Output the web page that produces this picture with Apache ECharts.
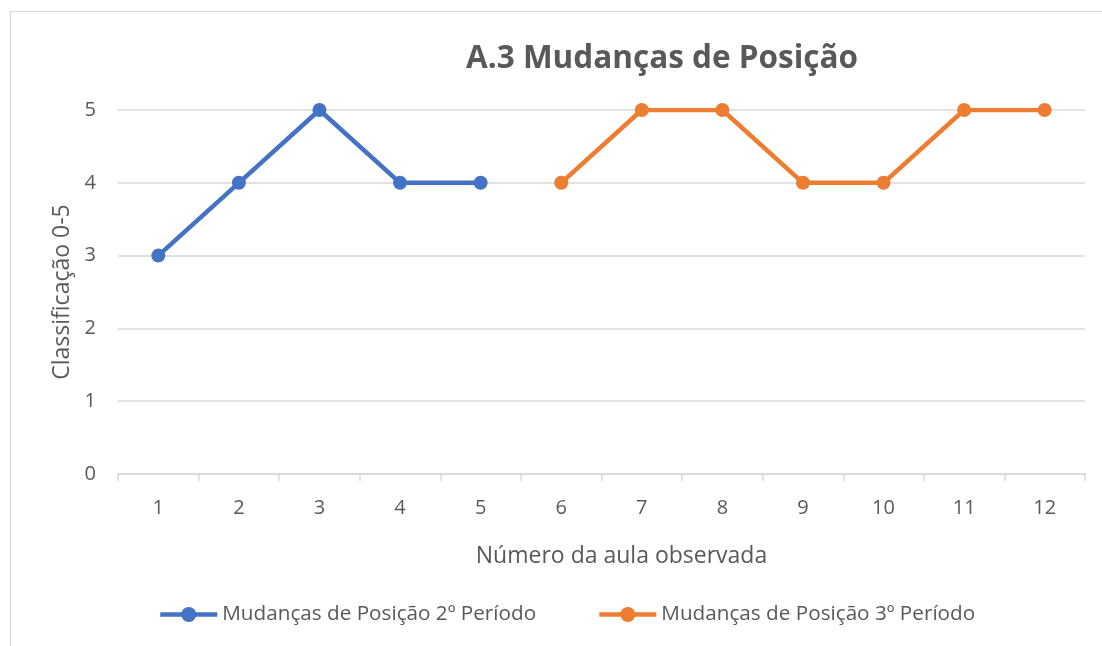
<!DOCTYPE html>
<html>
<head>
<meta charset="utf-8">
<script src="https://cdn.jsdelivr.net/npm/echarts@6/dist/echarts.min.js"></script>
<style>
html,body{margin:0;padding:0;background:#fff;}
#frame{position:absolute;left:10px;top:11px;width:1200px;height:800px;border:1px solid #d9d9d9;box-sizing:border-box;}
#chart{position:absolute;left:0;top:0;width:1102px;height:646px;}
</style>
</head>
<body>
<div id="frame"></div>
<div id="chart"></div>
<script>
const categories = ['1','2','3','4','5','6','7','8','9','10','11','12'];
const period2 = [3,4,5,4,4,null,null,null,null,null,null,null];
const period3 = [null,null,null,null,null,4,5,5,4,4,5,5];
const seriesNames = ['Mudanças de Posição 2º Período','Mudanças de Posição 3º Período'];
const titleText = 'A.3 Mudanças de Posição';
const xName = 'Número da aula observada';
const yName = 'Classificação 0-5';

const FONT = '"Open Sans", "Noto Sans", sans-serif';
const chart = echarts.init(document.getElementById('chart'), null, {renderer:'canvas'});
chart.setOption({
  backgroundColor: 'transparent',
  animation: false,
  title: {
    text: titleText, left: 662, top: 43, textAlign: 'center', padding: 0,
    textStyle: {fontFamily: FONT, fontSize: 31.5, fontWeight: 'bold', color: '#595959'}
  },
  grid: {left: 118, right: 17, top: 110, bottom: 172},
  legend: {
    left: 158, top: 604, padding: 0, itemWidth: 57, itemHeight: 19, itemGap: 61,
    textStyle: {fontFamily: FONT, fontSize: 20.7, color: '#595959'},
    lineStyle: {width: 4.5},
    data: seriesNames
  },
  xAxis: {
    type: 'category', data: categories, boundaryGap: true,
    name: xName, nameLocation: 'middle', nameGap: 71,
    nameTextStyle: {fontFamily: FONT, fontSize: 23, color: '#595959', padding: [0, 0, 0, 40]},
    axisLine: {lineStyle: {color: '#d9d9d9', width: 1.5}},
    axisTick: {show: true, length: 7, lineStyle: {color: '#d9d9d9', width: 1.5}},
    axisLabel: {fontFamily: FONT, fontSize: 20, color: '#595959', margin: 24}
  },
  yAxis: {
    type: 'value', min: 0, max: 5, interval: 1,
    name: yName, nameLocation: 'middle', nameGap: 44,
    nameTextStyle: {fontFamily: FONT, fontSize: 23, color: '#595959'},
    axisLine: {show: false}, axisTick: {show: false},
    splitLine: {lineStyle: {color: '#d9d9d9', width: 1.5}},
    axisLabel: {fontFamily: FONT, fontSize: 20, color: '#595959', margin: 22}
  },
  series: [
    {name: seriesNames[0], type: 'line', data: period2, connectNulls: false,
     symbol: 'circle', symbolSize: 14, color: '#4472C4',
     lineStyle: {width: 4.5, color: '#4472C4'}, itemStyle: {color: '#4472C4'}},
    {name: seriesNames[1], type: 'line', data: period3, connectNulls: false,
     symbol: 'circle', symbolSize: 14, color: '#ED7D31',
     lineStyle: {width: 4.5, color: '#ED7D31'}, itemStyle: {color: '#ED7D31'}}
  ]
});
</script>
</body>
</html>
